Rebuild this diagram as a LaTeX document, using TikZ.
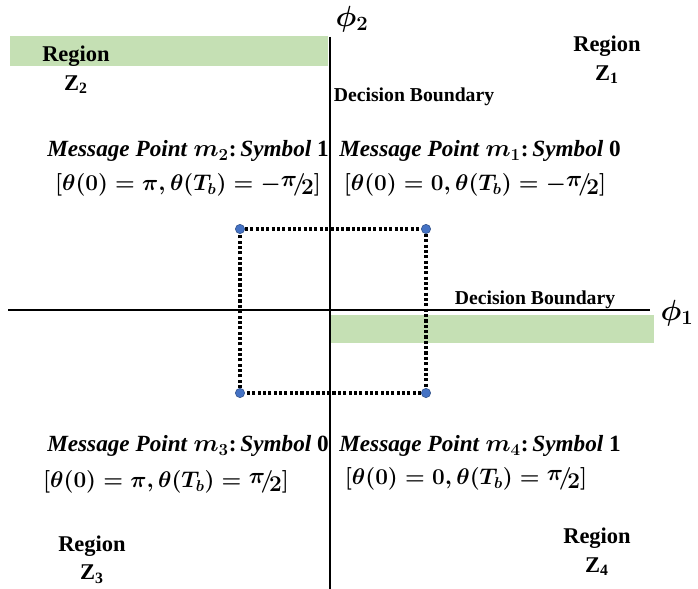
\documentclass[tikz,border=0pt]{standalone}
\usepackage{amsmath, amssymb}
\usepackage{graphicx}
\usepackage{fontspec}
\setmainfont{Liberation Serif}
\usepackage{xcolor}
\usepackage{tikz}
\usetikzlibrary{calc, positioning}

\definecolor{bandgreen}{RGB}{197,224,180}
\definecolor{ptblue}{RGB}{68,114,196}

\newcommand{\halfpi}{\raisebox{0.4ex}{$\pi$}\!/\!\raisebox{-0.4ex}{$2$}}
\newcommand{\msgline}[2]{\textbf{\textit{Message Point}} $m_{#1}$\textbf{:}\,\textbf{\textit{Symbol}} \textbf{#2}}
\newcommand{\angtext}[1]{\scalebox{0.93}{$#1$}}

\begin{document}
\begin{tikzpicture}[x=0.025cm, y=-0.025cm,
    region/.style={font=\fontsize{16}{20}\selectfont\bfseries, align=center},
    bound/.style={font=\fontsize{14}{16}\selectfont\bfseries},
    msg/.style={font=\fontsize{16.5}{18}\selectfont\boldmath, inner sep=0pt},
    angle/.style={font=\fontsize{17.28}{19}\selectfont\boldmath, inner sep=0pt},
    band/.style={fill=bandgreen},
    axis/.style={line width=1.6pt},
    dotbox/.style={line width=2.4pt, dash pattern=on 2.2pt off 1.6pt},
    pt/.style={circle, fill=ptblue, draw=ptblue!70!black, line width=0.4pt, inner sep=0pt, minimum size=6.6pt}]

    \useasboundingbox (0,0) rectangle (698,589);

    % 1. Các dải màu xanh
    \fill[band] (10,36) rectangle (328,66);
    \fill[band] (331,315) rectangle (654,343);

    % 2. Trục tọa độ
    \coordinate (ytop) at (330,37);
    \coordinate (ybot) at (330,589);
    \coordinate (xl) at (8,310);
    \coordinate (xr) at (650,310);
    \draw[axis] (ytop) -- (ybot);
    \draw[axis] (xl) -- (xr);
    \node[font=\fontsize{22}{24}\selectfont\boldmath] (phi2) at (352,19) {$\phi_2$};
    \node[font=\fontsize{22}{24}\selectfont\boldmath] (phi1) at (677,313) {$\phi_1$};

    % 3. Các điểm tin và hình chữ nhật chấm
    \node[pt] (p2) at (240,229) {};
    \node[pt] (p1) at (426,229) {};
    \node[pt] (p3) at (240,393) {};
    \node[pt] (p4) at (426,393) {};
    \draw[dotbox] (p2) -- (p1) -- (p4) -- (p3) -- (p2);

    % 4. Nhãn miền
    \node[region] (z2) at (76,70) {Region\\Z\textsubscript{2}};
    \node[region] (z1) at (607,60) {Region\\Z\textsubscript{1}};
    \node[region] (z3) at (92,560) {Region\\Z\textsubscript{3}};
    \node[region] (z4) at (597,552) {Region\\Z\textsubscript{4}};

    % 5. Đường biên quyết định
    \node[bound] (db1) at (414,97) {Decision Boundary};
    \node[bound] (db2) at (535,300) {Decision Boundary};

    % 6. Nhãn các điểm tin
    \node[msg] (m2) at (188,151) {\msgline{2}{1}};
    \node[angle] (t2) at (188,185) {\angtext{[\theta(0)=\pi,\theta(T_b)=-\halfpi]}};
    \node[msg] (m1) at (480,151) {\msgline{1}{0}};
    \node[angle] (t1) at (475,185) {\angtext{[\theta(0)=0,\theta(T_b)=-\halfpi]}};
    \node[msg] (m3) at (188,446) {\msgline{3}{0}};
    \node[angle] (t3) at (166,482) {\angtext{[\theta(0)=\pi,\theta(T_b)=\halfpi]}};
    \node[msg] (m4) at (480,446) {\msgline{4}{1}};
    \node[angle] (t4) at (466,479) {\angtext{[\theta(0)=0,\theta(T_b)=\halfpi]}};
\end{tikzpicture}
\end{document}
